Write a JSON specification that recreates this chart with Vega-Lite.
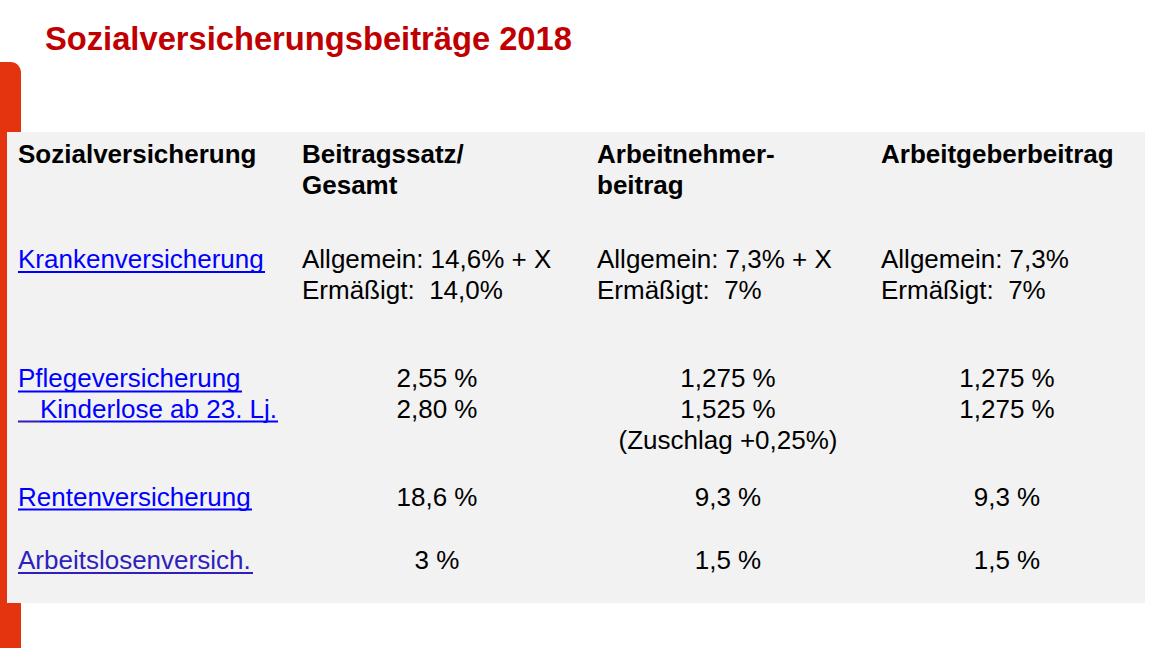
{
  "$schema": "https://vega.github.io/schema/vega-lite/v6.json",
  "width": 1152,
  "height": 648,
  "padding": 0,
  "autosize": {"type": "none"},
  "background": "#ffffff",
  "config": {"view": {"stroke": null}, "font": "Liberation Sans"},
  "datasets": {
    "shapes": [
      {"name": "bar", "x": 0, "x2": 21, "y": 62, "y2": 648},
      {"name": "panel", "x": 7, "x2": 1145, "y": 132, "y2": 603}
    ],
    "title": [
      {"x": 45, "y": 50, "label": "Sozialversicherungsbeiträge 2018"}
    ],
    "headers": [
      {"x": 18, "y": 163, "label": "Sozialversicherung"},
      {"x": 302, "y": 163, "label": "Beitragssatz/"},
      {"x": 302, "y": 194, "label": "Gesamt"},
      {"x": 597, "y": 163, "label": "Arbeitnehmer-"},
      {"x": 597, "y": 194, "label": "beitrag"},
      {"x": 881, "y": 163, "label": "Arbeitgeberbeitrag"}
    ],
    "lefttext": [
      {"x": 18, "y": 267.5, "label": "Krankenversicherung", "kind": "link"},
      {"x": 18, "y": 387, "label": "Pflegeversicherung", "kind": "link"},
      {"x": 40, "y": 417.5, "label": "Kinderlose ab 23. Lj.", "kind": "link"},
      {"x": 18, "y": 505.5, "label": "Rentenversicherung", "kind": "link"},
      {"x": 18, "y": 569, "label": "Arbeitslosenversich.", "kind": "visited"},
      {"x": 302, "y": 267.5, "label": "Allgemein: 14,6% + X", "kind": "plain"},
      {"x": 302, "y": 299, "label": "Ermäßigt:\u00a0 14,0%", "kind": "plain"},
      {"x": 597, "y": 267.5, "label": "Allgemein: 7,3% + X", "kind": "plain"},
      {"x": 597, "y": 299, "label": "Ermäßigt:\u00a0 7%", "kind": "plain"},
      {"x": 881, "y": 267.5, "label": "Allgemein: 7,3%", "kind": "plain"},
      {"x": 881, "y": 299, "label": "Ermäßigt:\u00a0 7%", "kind": "plain"}
    ],
    "centertext": [
      {"x": 437, "y": 387, "label": "2,55 %"},
      {"x": 437, "y": 418, "label": "2,80 %"},
      {"x": 728, "y": 387, "label": "1,275 %"},
      {"x": 728, "y": 418, "label": "1,525 %"},
      {"x": 728, "y": 449, "label": "(Zuschlag +0,25%)"},
      {"x": 1007, "y": 387, "label": "1,275 %"},
      {"x": 1007, "y": 418, "label": "1,275 %"},
      {"x": 437, "y": 505.5, "label": "18,6 %"},
      {"x": 728, "y": 505.5, "label": "9,3 %"},
      {"x": 1007, "y": 505.5, "label": "9,3 %"},
      {"x": 437, "y": 569, "label": "3 %"},
      {"x": 728, "y": 569, "label": "1,5 %"},
      {"x": 1007, "y": 569, "label": "1,5 %"}
    ],
    "underlines": [
      {"x": 18, "x2": 265, "y": 272, "kind": "link"},
      {"x": 18, "x2": 242, "y": 391.5, "kind": "link"},
      {"x": 18, "x2": 40, "y": 421.5, "kind": "visited"},
      {"x": 40, "x2": 278, "y": 421.5, "kind": "link"},
      {"x": 18, "x2": 252, "y": 509.5, "kind": "link"},
      {"x": 18, "x2": 253, "y": 573, "kind": "visited"}
    ]
  },
  "layer": [
    {
      "data": {"name": "shapes"},
      "transform": [{"filter": "datum.name === 'bar'"}],
      "mark": {"type": "rect", "color": "#e4340f", "cornerRadiusTopRight": 21},
      "encoding": {
        "x": {"field": "x", "type": "quantitative", "scale": {"domain": [0, 1152], "range": [0, 1152], "nice": false, "zero": false}, "axis": null},
        "x2": {"field": "x2"},
        "y": {"field": "y", "type": "quantitative", "scale": {"domain": [0, 648], "range": [0, 648], "nice": false, "zero": false}, "axis": null},
        "y2": {"field": "y2"}
      }
    },
    {
      "data": {"name": "shapes"},
      "transform": [{"filter": "datum.name === 'panel'"}],
      "mark": {"type": "rect", "color": "#f2f2f2"},
      "encoding": {
        "x": {"field": "x", "type": "quantitative", "axis": null},
        "x2": {"field": "x2"},
        "y": {"field": "y", "type": "quantitative", "axis": null},
        "y2": {"field": "y2"}
      }
    },
    {
      "data": {"name": "title"},
      "mark": {"type": "text", "align": "left", "baseline": "alphabetic", "fontSize": 32.7, "fontWeight": "bold", "color": "#c00000", "font": "Liberation Sans"},
      "encoding": {
        "x": {"field": "x", "type": "quantitative", "axis": null},
        "y": {"field": "y", "type": "quantitative", "axis": null},
        "text": {"field": "label"}
      }
    },
    {
      "data": {"name": "headers"},
      "mark": {"type": "text", "align": "left", "baseline": "alphabetic", "fontSize": 26, "fontWeight": "bold", "color": "#000000", "font": "Liberation Sans"},
      "encoding": {
        "x": {"field": "x", "type": "quantitative", "axis": null},
        "y": {"field": "y", "type": "quantitative", "axis": null},
        "text": {"field": "label"}
      }
    },
    {
      "data": {"name": "lefttext"},
      "mark": {"type": "text", "align": "left", "baseline": "alphabetic", "fontSize": 26, "font": "Liberation Sans"},
      "encoding": {
        "x": {"field": "x", "type": "quantitative", "axis": null},
        "y": {"field": "y", "type": "quantitative", "axis": null},
        "text": {"field": "label"},
        "color": {"field": "kind", "type": "nominal", "scale": {"domain": ["plain", "link", "visited"], "range": ["#000000", "#0000ff", "#2f1fbd"]}, "legend": null}
      }
    },
    {
      "data": {"name": "centertext"},
      "mark": {"type": "text", "align": "center", "baseline": "alphabetic", "fontSize": 26, "color": "#000000", "font": "Liberation Sans"},
      "encoding": {
        "x": {"field": "x", "type": "quantitative", "axis": null},
        "y": {"field": "y", "type": "quantitative", "axis": null},
        "text": {"field": "label"}
      }
    },
    {
      "data": {"name": "underlines"},
      "mark": {"type": "rule", "strokeWidth": 2},
      "encoding": {
        "x": {"field": "x", "type": "quantitative", "axis": null},
        "x2": {"field": "x2"},
        "y": {"field": "y", "type": "quantitative", "axis": null},
        "color": {"field": "kind", "type": "nominal", "scale": {"domain": ["plain", "link", "visited"], "range": ["#000000", "#0000ff", "#2f1fbd"]}, "legend": null}
      }
    }
  ]
}
